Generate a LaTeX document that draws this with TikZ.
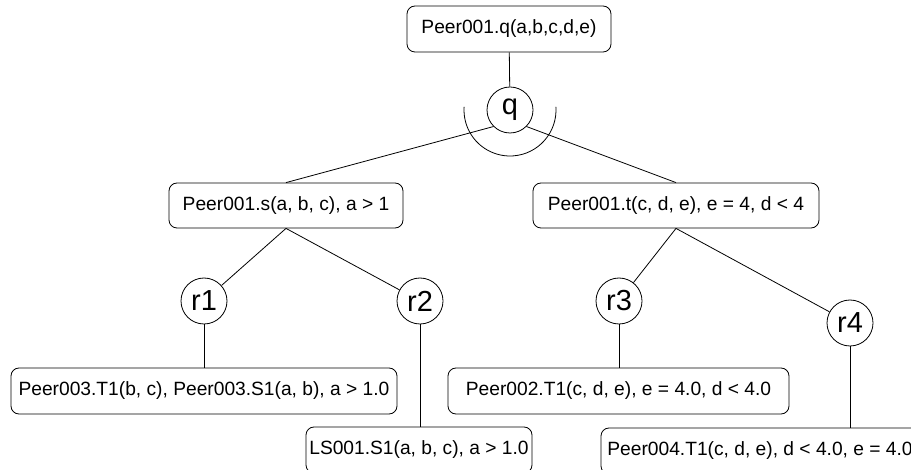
\documentclass[tikz,border=0pt]{standalone}
\usepackage{fontspec}
\setmainfont{Liberation Sans}
\begin{document}
\begin{tikzpicture}[x=1pt,y=-1pt,
  box/.style={draw, rounded corners=8pt, minimum height=46pt, inner sep=0pt,
              font=\fontsize{19.2}{23}\selectfont, line width=0.8pt},
  rulenode/.style={draw, circle, minimum size=46pt, inner sep=0pt,
              font=\fontsize{29}{32}\selectfont, line width=0.8pt},
  link/.style={line width=0.8pt}]
\useasboundingbox (0,0) rectangle (911,470);

% query and its rule
\node[box, minimum width=204pt] (top) at (509,29) {Peer001.q(a,b,c,d,e)};
\node[rulenode] (q) at (510,110) {q};
\draw[link] ([shift={(-4:46)}]q.center) arc[start angle=-4, end angle=184, radius=46];

% subgoals
\node[box, minimum width=234pt, minimum height=45pt] (s) at (286,205.5) {Peer001.s(a, b, c), a > 1};
\node[box, minimum width=286pt, minimum height=45pt] (t) at (676,205.5) {Peer001.t(c, d, e), e = 4, d < 4};

% rules
\node[rulenode] (r1) at (204,301) {r1};
\node[rulenode] (r2) at (420,301) {r2};
\node[rulenode] (r3) at (619,301) {r3};
\node[rulenode] (r4) at (850,323) {r4};

% rewritings
\node[box, minimum width=386pt] (p3) at (204,391) {Peer003.T1(b, c), Peer003.S1(a, b), a > 1.0};
\node[box, minimum width=226pt] (ls) at (419,450) {LS001.S1(a, b, c), a > 1.0};
\node[box, minimum width=341pt] (p2) at (618.5,391) {Peer002.T1(c, d, e), e = 4.0, d < 4.0};
\node[box, minimum width=318pt] (p4) at (760,451) {Peer004.T1(c, d, e), d < 4.0, e = 4.0};

% connectors
\draw[link] (top) -- (q);
\draw[link] (q.south west) -- (s.north);
\draw[link] (q.south east) -- (t.north);
\draw[link] (s.south) -- (r1);
\draw[link] (s.south) -- (r2);
\draw[link] (t.south) -- (r3);
\draw[link] (t.south) -- (r4);
\draw[link] (r1) -- (r1 |- p3.north);
\draw[link] (r2) -- (r2 |- ls.north);
\draw[link] (r3) -- (r3 |- p2.north);
\draw[link] (r4) -- (r4 |- p4.north);
\end{tikzpicture}
\end{document}
